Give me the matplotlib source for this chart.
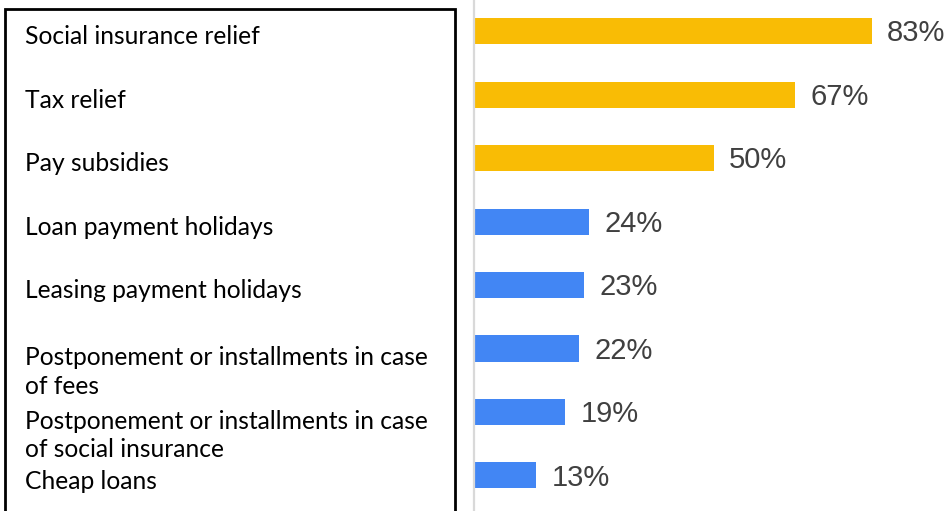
import matplotlib.pyplot as plt
from matplotlib.patches import Rectangle

categories = [
    "Social insurance relief",
    "Tax relief",
    "Pay subsidies",
    "Loan payment holidays",
    "Leasing payment holidays",
    "Postponement or installments in case\nof fees",
    "Postponement or installments in case\nof social insurance",
    "Cheap loans",
]
values = [83, 67, 50, 24, 23, 22, 19, 13]
groups = ["fiscal", "fiscal", "fiscal", "credit", "credit", "credit", "credit", "credit"]

colors = {"fiscal": "#F9BC05", "credit": "#4286F4"}

W, H = 950, 511
fig = plt.figure(figsize=(W / 100, H / 100), dpi=100)

# bar area on the right
ax = fig.add_axes([474 / W, 0, 479 / W, 1])
y = list(range(len(values)))
ax.barh(y, values, height=0.41, color=[colors[g] for g in groups])
ax.set_xlim(0, 100)
ax.set_ylim(7.56, -0.49)
ax.set_xticks([])
ax.set_yticks([])
for s in ["top", "right", "bottom"]:
    ax.spines[s].set_visible(False)
ax.spines["left"].set_color("#d9d9d9")
ax.spines["left"].set_linewidth(1.6)

for i, v in enumerate(values):
    ax.annotate(f"{v}%", xy=(v, i), xytext=(11, -1.5), textcoords="offset points",
                va="center", ha="left", fontsize=21, color="#404040",
                family="Liberation Sans")

# category labels inside the framed box on the left
for i, lab in enumerate(categories):
    off = -17 if "\n" in lab else -4
    ax.annotate(lab, xy=(25 / W, i), xycoords=(fig.transFigure, ax.transData),
                xytext=(0, off), textcoords="offset points",
                va="center", ha="left", fontsize=17.7, color="#000000",
                family="Lato", linespacing=1.3, annotation_clip=False)

box = Rectangle((5 / W, -0.05), 450 / W, 1.05 - 9 / H, transform=fig.transFigure,
                fill=False, edgecolor="black", linewidth=2, clip_on=False)
fig.patches.append(box)

fig.savefig("out.png", dpi=100)
